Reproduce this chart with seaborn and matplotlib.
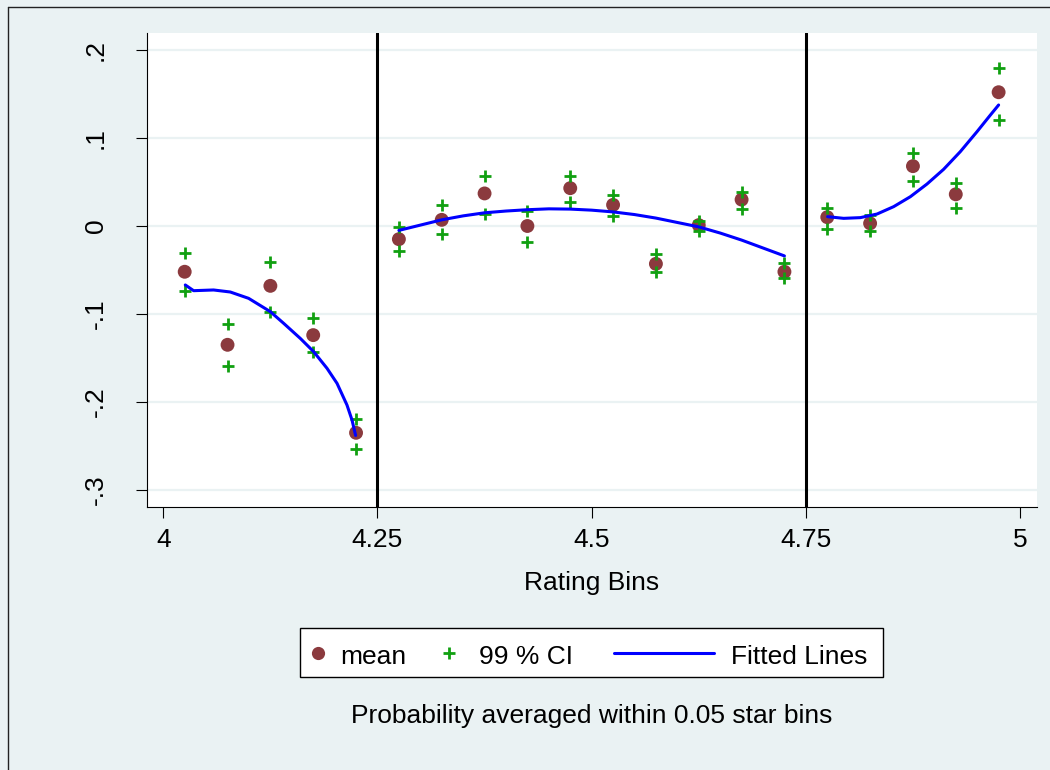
import pandas as pd
import matplotlib.pyplot as plt
import seaborn as sns
from matplotlib.patches import Rectangle
from matplotlib.lines import Line2D

# bin midpoints (0.05 star bins)
bins = [4.025, 4.075, 4.125, 4.175, 4.225, 4.275, 4.325, 4.375, 4.425, 4.475,
        4.525, 4.575, 4.625, 4.675, 4.725, 4.775, 4.825, 4.875, 4.925, 4.975]
mean_vals = [-0.052, -0.135, -0.068, -0.124, -0.235, -0.015, 0.007, 0.037, 0.000, 0.043,
             0.024, -0.043, 0.001, 0.030, -0.052, 0.010, 0.003, 0.068, 0.036, 0.152]
ci_hi = [-0.031, -0.111, -0.041, -0.105, -0.219, -0.001, 0.024, 0.057, 0.017, 0.057,
         0.035, -0.032, 0.006, 0.039, -0.042, 0.021, 0.013, 0.083, 0.049, 0.180]
ci_lo = [-0.074, -0.159, -0.098, -0.143, -0.253, -0.028, -0.009, 0.014, -0.018, 0.027,
         0.011, -0.052, -0.006, 0.019, -0.059, -0.003, -0.006, 0.051, 0.020, 0.120]

# fitted lines, one per segment
seg1_x = [4.0257, 4.0354, 4.0587, 4.0782, 4.0996, 4.1249, 4.1405, 4.1599, 4.1755,
          4.1911, 4.2028, 4.2144, 4.2203, 4.2245]
seg1_y = [-0.067, -0.0735, -0.0727, -0.075, -0.0822, -0.0973, -0.1106, -0.1277, -0.1428,
          -0.1617, -0.1788, -0.2034, -0.2205, -0.238]
seg2_x = [4.275, 4.300, 4.325, 4.350, 4.375, 4.400, 4.425, 4.450, 4.475, 4.500,
          4.525, 4.550, 4.575, 4.600, 4.625, 4.650, 4.675, 4.700, 4.725]
seg2_y = [-0.005, 0.001, 0.007, 0.0115, 0.015, 0.017, 0.0185, 0.0195, 0.0192, 0.018,
          0.016, 0.013, 0.009, 0.004, -0.001, -0.008, -0.016, -0.025, -0.034]
seg3_x = [4.7754, 4.7941, 4.8136, 4.8331, 4.8525, 4.8720, 4.8914, 4.9108, 4.9303,
          4.9498, 4.9653, 4.9750]
seg3_y = [0.0106, 0.0087, 0.0095, 0.0136, 0.022, 0.0333, 0.0477, 0.0644, 0.0845,
          0.1072, 0.126, 0.1375]

cutoffs = [4.25, 4.75]
xticks = [4, 4.25, 4.5, 4.75, 5]
xtick_labels = ['4', '4.25', '4.5', '4.75', '5']
yticks = [-0.3, -0.2, -0.1, 0, 0.1, 0.2]
ytick_labels = ['-.3', '-.2', '-.1', '0', '.1', '.2']

BG = '#EAF2F3'
GRID = '#EAF2F3'
MAROON = '#8B3A3E'
GREEN = '#11A011'
BLUE = '#0000FF'
W, H = 1050, 770


def fig_xy(px, py):
    """pixel position -> figure fraction"""
    return px / W, 1 - py / H


pts = pd.DataFrame({'bin': bins, 'mean': mean_vals})
ci = pd.concat([
    pd.DataFrame({'bin': bins, 'value': ci_lo}),
    pd.DataFrame({'bin': bins, 'value': ci_hi}),
])
fit = pd.concat([
    pd.DataFrame({'x': seg1_x, 'y': seg1_y, 'segment': 1}),
    pd.DataFrame({'x': seg2_x, 'y': seg2_y, 'segment': 2}),
    pd.DataFrame({'x': seg3_x, 'y': seg3_y, 'segment': 3}),
])

sns.set_theme(style='white')
plt.rcParams['font.family'] = ['Liberation Sans', 'DejaVu Sans']
plt.rcParams['text.color'] = 'black'
plt.rcParams['axes.labelcolor'] = 'black'

fig = plt.figure(figsize=(10.5, 7.7), dpi=100, facecolor=BG)
ax = fig.add_axes([147 / W, 1 - 507 / H, (1037 - 147) / W, (507 - 33) / H])
ax.set_facecolor('white')

for y in yticks:
    ax.axhline(y, color=GRID, lw=1.6, zorder=0)
for c in cutoffs:
    ax.axvline(c, color='black', lw=2.2, zorder=1)

sns.scatterplot(data=pts, x='bin', y='mean', s=100, color=MAROON,
                edgecolor='none', ax=ax, zorder=3, legend=False)
sns.scatterplot(data=ci, x='bin', y='value', marker='+', s=85, color=GREEN,
                linewidth=2.0, ax=ax, zorder=4, legend=False)
sns.lineplot(data=fit, x='x', y='y', units='segment', estimator=None, sort=False,
             color=BLUE, lw=2.2, ax=ax, zorder=5, legend=False)

ax.set_xlim(3.981, 5.0198)
ax.set_ylim(-0.3193, 0.2193)
ax.set_xticks(xticks)
ax.set_xticklabels(xtick_labels, fontsize=19)
ax.set_yticks(yticks)
ax.set_yticklabels(ytick_labels, fontsize=19, rotation=90, va='center')
ax.tick_params(axis='both', direction='out', length=8, width=0.8, colors='black',
               bottom=True, left=True)
ax.tick_params(axis='x', pad=7)
ax.tick_params(axis='y', pad=20)
ax.set_xlabel('Rating Bins', fontsize=19, labelpad=14, color='black')
ax.set_ylabel('')

for side in ['top', 'right']:
    ax.spines[side].set_visible(False)
for side in ['left', 'bottom']:
    ax.spines[side].set_color('black')
    ax.spines[side].set_linewidth(0.8)

# legend box
x0, y0 = fig_xy(300, 677)
fig.add_artist(Rectangle((x0, y0), (883 - 300) / W, (677 - 628) / H,
                         transform=fig.transFigure, facecolor='white',
                         edgecolor='black', lw=1.0))
ly = fig_xy(0, 652.5)[1]
fig.add_artist(Line2D([317.5 / W], [ly], marker='o', ms=9.5, color=MAROON,
                      mec='none', transform=fig.transFigure))
fig.add_artist(Line2D([449.3 / W], [ly], marker='+', ms=9, mew=2.0, color=GREEN,
                      transform=fig.transFigure))
fig.add_artist(Line2D([614 / W, 714 / W], [ly, ly], lw=2.2, color=BLUE,
                      transform=fig.transFigure))
tb = fig_xy(0, 663.5)[1]
fig.text(340 / W, tb, 'mean', fontsize=19, va='baseline', ha='left')
fig.text(479 / W, tb, '99 % CI', fontsize=19, va='baseline', ha='left')
fig.text(730.7 / W, tb, 'Fitted Lines', fontsize=19, va='baseline', ha='left')

fig.text(591.3 / W, fig_xy(0, 723)[1], 'Probability averaged within 0.05 star bins',
         fontsize=19, va='baseline', ha='center')

# outer graph border (left and top edges visible in the crop)
fig.add_artist(Line2D([8 / W, 8 / W], [0, 1 - 7 / H], color='#222222', lw=1.0,
                      transform=fig.transFigure))
fig.add_artist(Line2D([8 / W, 1], [1 - 7 / H, 1 - 7 / H], color='#222222', lw=1.0,
                      transform=fig.transFigure))

fig.savefig('out.png', dpi=100, facecolor=BG)
